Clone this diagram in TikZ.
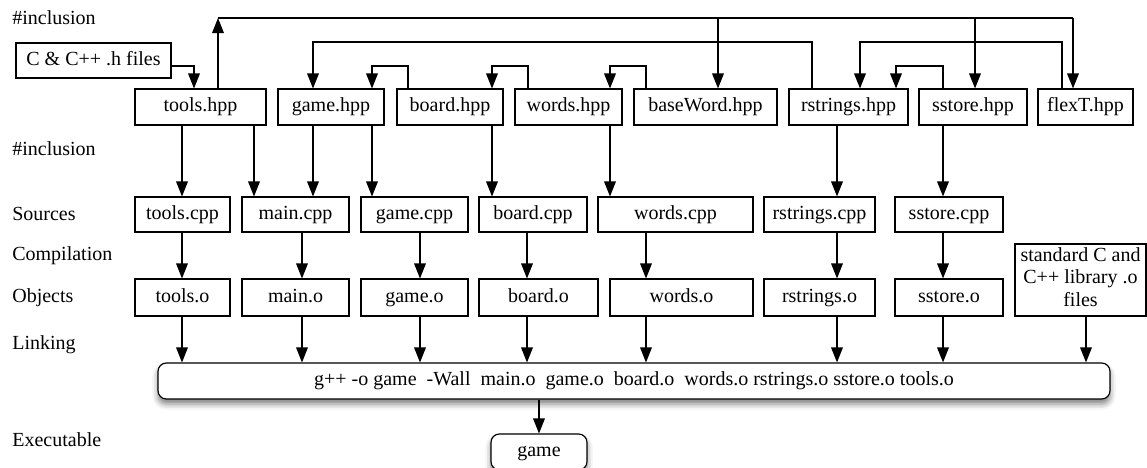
\documentclass[tikz,border=0pt]{standalone}
\usepackage{fontspec}
\setmainfont{Liberation Serif}
\usetikzlibrary{arrows.meta,shadows.blur}
\tikzset{
  box/.style={draw, line width=0.7pt, inner sep=0pt, minimum height=36*0.6pt, font=\fontsize{12}{13.5}\selectfont, execute at begin node=\strut},
  wd/.style={minimum width=#1*0.6pt},
  ht/.style={minimum height=#1*0.6pt},
  rbox/.style={box, rounded corners=5pt, fill=white, blur shadow={shadow xshift=0pt, shadow yshift=-3pt, shadow blur radius=3.5pt, shadow opacity=50}},
  arr/.style={-{Triangle[length=9pt,width=7pt]}, line width=0.7pt},
  lbl/.style={anchor=west, inner sep=0pt, font=\fontsize{12}{13.5}\selectfont}
}
\begin{document}
\begin{tikzpicture}[x=0.6pt,y=-0.6pt]
\useasboundingbox (0,0) rectangle (1147,467);
% stage labels
\node[lbl] (l1) at (12,18) {\#inclusion};
\node[lbl] (l2) at (12,149) {\#inclusion};
\node[lbl] (l3) at (12,214) {Sources};
\node[lbl] (l4) at (12,256) {Compilation};
\node[lbl] (l5) at (12,298) {Objects};
\node[lbl] (l6) at (12,345) {Linking};
\node[lbl] (l7) at (12,440) {Executable};
% headers
\node[box, wd=155, ht=35] (hfiles) at (93.5,60.5) {C \& C++ .h files};
\node[box, wd=131] (toolshpp) at (200.5,107) {tools.hpp};
\node[box, wd=106] (gamehpp) at (331,107) {game.hpp};
\node[box, wd=106] (boardhpp) at (450,107) {board.hpp};
\node[box, wd=107] (wordshpp) at (568.5,107) {words.hpp};
\node[box, wd=143] (basewordhpp) at (705.5,107) {baseWord.hpp};
\node[box, wd=119] (rstringshpp) at (848.5,107) {rstrings.hpp};
\node[box, wd=108] (sstorehpp) at (973,107) {sstore.hpp};
\node[box, wd=95] (flexthpp) at (1085.5,107) {flexT.hpp};
% sources
\node[box, wd=95, ht=35] (toolscpp) at (182.5,214.5) {tools.cpp};
\node[box, wd=107, ht=35] (maincpp) at (295.5,214.5) {main.cpp};
\node[box, wd=107, ht=35] (gamecpp) at (414.5,214.5) {game.cpp};
\node[box, wd=108, ht=35] (boardcpp) at (533,214.5) {board.cpp};
\node[box, wd=155, ht=35] (wordscpp) at (675.5,214.5) {words.cpp};
\node[box, wd=111, ht=35] (rstringscpp) at (819.5,214.5) {rstrings.cpp};
\node[box, wd=108, ht=35] (sstorecpp) at (949,214.5) {sstore.cpp};
% objects
\node[box, wd=95, ht=37] (toolso) at (182.5,297.5) {tools.o};
\node[box, wd=107, ht=37] (maino) at (295.5,297.5) {main.o};
\node[box, wd=107, ht=37] (gameo) at (414.5,297.5) {game.o};
\node[box, wd=119, ht=37] (boardo) at (538.5,297.5) {board.o};
\node[box, wd=143, ht=37] (wordso) at (681.5,297.5) {words.o};
\node[box, wd=111, ht=37] (rstringso) at (819.5,297.5) {rstrings.o};
\node[box, wd=108, ht=37] (sstoreo) at (949,297.5) {sstore.o};
\node[box, wd=131, ht=72, align=center] (stdo) at (1080.5,280) {standard C and\\C++ library .o\\files};
% link and executable
\node[rbox, wd=952] (link) at (634,381) {g++ -o game\ \ -Wall\ \ main.o\ \ game.o\ \ board.o\ \ words.o rstrings.o sstore.o tools.o};
\node[rbox, wd=96] (game) at (539,452) {game};
% inclusion above the headers
\coordinate (busL) at (218,18);
\coordinate (busR) at (1073,18);
\draw[arr] (toolshpp.north -| busL) -- (busL);
\draw[line width=0.7pt] (busL) -- (busR);
\foreach \b/\x in {basewordhpp/718, sstorehpp/975, flexthpp/1073}
  \draw[arr] (\x,18) -- (\b.north -| \x,0);
\foreach \a/\xa/\b/\xb/\y in {rstringshpp/812/gamehpp/313/42, flexthpp/1062/rstringshpp/860/42,
    boardhpp/408/gamehpp/372/66, wordshpp/528/boardhpp/492/66,
    basewordhpp/646/wordshpp/610/66, sstorehpp/943/rstringshpp/896/66}
  \draw[arr] (\a.north -| \xa,0) |- (\xb,\y) -- (\b.north -| \xb,0);
\draw[arr] (hfiles.east |- 0,66) -| (toolshpp.north -| 194,0);
% headers to sources
\foreach \a/\b/\x in {toolshpp/toolscpp/182, toolshpp/maincpp/254, gamehpp/maincpp/313,
    gamehpp/gamecpp/372, boardhpp/boardcpp/492, wordshpp/wordscpp/610,
    rstringshpp/rstringscpp/837, sstorehpp/sstorecpp/943}
  \draw[arr] (\a.south -| \x,0) -- (\b.north -| \x,0);
% compilation
\foreach \a/\b/\x in {toolscpp/toolso/182, maincpp/maino/302, gamecpp/gameo/420,
    boardcpp/boardo/527, wordscpp/wordso/646, rstringscpp/rstringso/837, sstorecpp/sstoreo/943}
  \draw[arr] (\a.south -| \x,0) -- (\b.north -| \x,0);
% linking
\foreach \a/\x in {toolso/182, maino/302, gameo/420, boardo/527, wordso/646,
    rstringso/837, sstoreo/943, stdo/1086}
  \draw[arr] (\a.south -| \x,0) -- (link.north -| \x,0);
\draw[arr] (link.south -| 539,0) -- (game.north -| 539,0);
\end{tikzpicture}
\end{document}
